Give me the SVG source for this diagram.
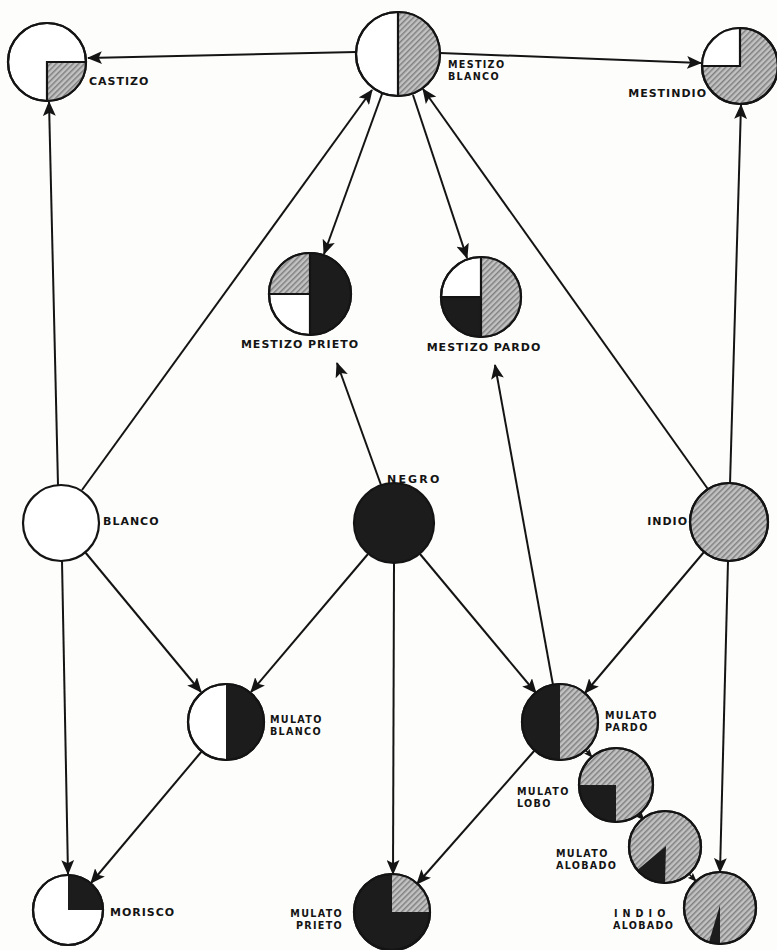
<svg xmlns="http://www.w3.org/2000/svg" width="777" height="950" viewBox="0 0 777 950">
<style>
.bg{fill:#fdfdfb}
.c{stroke:#141414;stroke-width:2.2;fill:#fff}
.o{fill:none;stroke:#141414;stroke-width:2.2}
.g{fill:url(#hatch)}
.d{fill:#1c1c1c}
.t{font-family:"DejaVu Sans","Liberation Sans",sans-serif;font-weight:bold;font-size:11px;letter-spacing:1px;fill:#141414}
.t2{font-family:"DejaVu Sans","Liberation Sans",sans-serif;font-weight:bold;font-size:9.6px;letter-spacing:1.3px;fill:#141414}
.ln{stroke:#141414;stroke-width:2;fill:none;marker-end:url(#ah)}
.sm{stroke:#141414;stroke-width:1.6;fill:none;marker-end:url(#ahs)}
</style>
<defs>
<pattern id="hatch" width="4" height="4" patternUnits="userSpaceOnUse" patternTransform="rotate(45)">
<rect width="4" height="4" fill="#c2c2c2"/>
<rect width="1.5" height="4" fill="#808080"/>
</pattern>
<marker id="ah" viewBox="0 0 14 12" refX="13" refY="6" markerWidth="15" markerHeight="13" markerUnits="userSpaceOnUse" orient="auto">
<path d="M0,0 L14,6 L0,12 L3,6 z" fill="#141414"/>
</marker>
<marker id="ahs" viewBox="0 0 10 8" refX="9" refY="4" markerWidth="9" markerHeight="8" markerUnits="userSpaceOnUse" orient="auto">
<path d="M0,0 L10,4 L0,8 L2,4 z" fill="#141414"/>
</marker>
</defs>
<rect class="bg" x="0" y="0" width="777" height="950"/>

<g id="connectors">
<line class="ln" x1="356" y1="52" x2="88" y2="58"/>
<line class="ln" x1="440" y1="53" x2="701" y2="63"/>
<line class="ln" x1="58" y1="485" x2="49" y2="102"/>
<line class="ln" x1="82" y1="490" x2="372" y2="90"/>
<line class="ln" x1="710" y1="492" x2="423" y2="89"/>
<line class="ln" x1="730" y1="484" x2="741" y2="105"/>
<line class="ln" x1="382" y1="94" x2="324" y2="254"/>
<line class="ln" x1="413" y1="95" x2="467" y2="258"/>
<line class="ln" x1="381" y1="485" x2="337" y2="363"/>
<line class="ln" x1="553" y1="685" x2="495" y2="365"/>
<line class="ln" x1="368" y1="554" x2="251" y2="692"/>
<line class="ln" x1="85" y1="552" x2="201" y2="692"/>
<line class="ln" x1="394" y1="563" x2="393" y2="874"/>
<line class="ln" x1="420" y1="554" x2="536" y2="693"/>
<line class="ln" x1="704" y1="552" x2="585" y2="693"/>
<line class="ln" x1="728" y1="561" x2="720" y2="872"/>
<line class="ln" x1="62" y1="561" x2="68" y2="874"/>
<line class="ln" x1="202" y1="751" x2="91" y2="883"/>
<line class="ln" x1="535" y1="750" x2="417" y2="884"/>
<line class="sm" x1="581" y1="745" x2="592" y2="757"/>
<line class="sm" x1="635" y1="810" x2="644" y2="820"/>
<line class="sm" x1="686" y1="871" x2="696" y2="881"/>
</g>

<g id="castizo">
<circle class="c" cx="47" cy="62" r="39"/>
<path class="g" d="M47,62 L86,62 A39,39 0 0 1 47,101 Z"/>
<path class="o" d="M47,101 L47,62 L86,62"/>
<circle class="o" cx="47" cy="62" r="39"/>
<text class="t" x="89" y="85">CASTIZO</text>
</g>

<g id="mestizo-blanco">
<circle class="c" cx="398" cy="54" r="42"/>
<path class="g" d="M398,12 A42,42 0 0 1 398,96 Z"/>
<line class="o" x1="398" y1="12" x2="398" y2="96"/>
<circle class="o" cx="398" cy="54" r="42"/>
<text class="t2" x="448" y="68">MESTIZO</text>
<text class="t2" x="448" y="80">BLANCO</text>
</g>

<g id="mestindio">
<circle class="c g" cx="740" cy="66" r="38"/>
<path fill="#fff" d="M740,66 L702,66 A38,38 0 0 1 740,28 Z"/>
<path class="o" d="M702,66 L740,66 L740,28"/>
<circle class="o" cx="740" cy="66" r="38"/>
<text class="t" x="707" y="97" text-anchor="end">MESTINDIO</text>
</g>

<g id="mestizo-prieto">
<circle class="c" cx="310" cy="294" r="41"/>
<path class="d" d="M310,253 A41,41 0 0 1 310,335 Z"/>
<path class="g" d="M310,294 L310,253 A41,41 0 0 0 269,294 Z"/>
<path class="o" d="M310,253 L310,335 M269,294 L310,294"/>
<circle class="o" cx="310" cy="294" r="41"/>
<text class="t" x="300" y="348" text-anchor="middle">MESTIZO PRIETO</text>
</g>

<g id="mestizo-pardo">
<circle class="c" cx="481" cy="297" r="40"/>
<path class="g" d="M481,257 A40,40 0 0 1 481,337 Z"/>
<path class="d" d="M481,297 L441,297 A40,40 0 0 0 481,337 Z"/>
<path class="o" d="M481,257 L481,337 M441,297 L481,297"/>
<circle class="o" cx="481" cy="297" r="40"/>
<text class="t" x="484" y="351" text-anchor="middle">MESTIZO PARDO</text>
</g>

<g id="blanco">
<circle class="c" cx="61" cy="523" r="38"/>
<text class="t" x="103" y="525">BLANCO</text>
</g>

<g id="negro">
<circle class="c d" cx="394" cy="523" r="40"/>
<text class="t" x="387" y="483" style="letter-spacing:2.2px">NEGRO</text>
</g>

<g id="indio">
<circle class="c g" cx="729" cy="522" r="39"/>
<circle class="o" cx="729" cy="522" r="39"/>
<text class="t" x="688" y="525" text-anchor="end">INDIO</text>
</g>

<g id="mulato-blanco">
<circle class="c" cx="226" cy="722" r="38"/>
<path class="d" d="M226,684 A38,38 0 0 1 226,760 Z"/>
<circle class="o" cx="226" cy="722" r="38"/>
<text class="t2" x="270" y="723">MULATO</text>
<text class="t2" x="270" y="735">BLANCO</text>
</g>

<g id="mulato-pardo">
<circle class="c" cx="560" cy="722" r="38"/>
<path class="d" d="M560,684 A38,38 0 0 0 560,760 Z"/>
<path class="g" d="M560,684 A38,38 0 0 1 560,760 Z"/>
<circle class="o" cx="560" cy="722" r="38"/>
<text class="t2" x="605" y="719">MULATO</text>
<text class="t2" x="605" y="731">PARDO</text>
</g>

<g id="mulato-lobo">
<circle class="c g" cx="616" cy="785" r="37"/>
<path class="d" d="M616,785 L579,785 A37,37 0 0 0 616,822 Z"/>
<circle class="o" cx="616" cy="785" r="37"/>
<text class="t2" x="517" y="795">MULATO</text>
<text class="t2" x="517" y="807">LOBO</text>
</g>

<g id="mulato-alobado">
<circle class="c g" cx="665" cy="847" r="36"/>
<path class="d" d="M666,846 L665,883 A36,36 0 0 1 637.4,870.1 Z"/>
<circle class="o" cx="665" cy="847" r="36"/>
<text class="t2" x="556" y="857">MULATO</text>
<text class="t2" x="556" y="869">ALOBADO</text>
</g>

<g id="indio-alobado">
<circle class="c g" cx="720" cy="908" r="36"/>
<path class="d" d="M720,905 L720,944 A36,36 0 0 1 708.9,942.2 Z"/>
<circle class="o" cx="720" cy="908" r="36"/>
<text class="t2" x="614" y="917" style="letter-spacing:5px">INDIO</text>
<text class="t2" x="613" y="929">ALOBADO</text>
</g>

<g id="morisco">
<circle class="c" cx="68" cy="910" r="35"/>
<path class="d" d="M68,910 L68,875 A35,35 0 0 1 103,910 Z"/>
<circle class="o" cx="68" cy="910" r="35"/>
<text class="t" x="110" y="916">MORISCO</text>
</g>

<g id="mulato-prieto">
<circle class="c d" cx="392" cy="912" r="38"/>
<path class="g" d="M392,912 L392,874 A38,38 0 0 1 430,912 Z"/>
<circle class="o" cx="392" cy="912" r="38"/>
<text class="t2" x="343" y="917" text-anchor="end">MULATO</text>
<text class="t2" x="343" y="929" text-anchor="end">PRIETO</text>
</g>
</svg>
